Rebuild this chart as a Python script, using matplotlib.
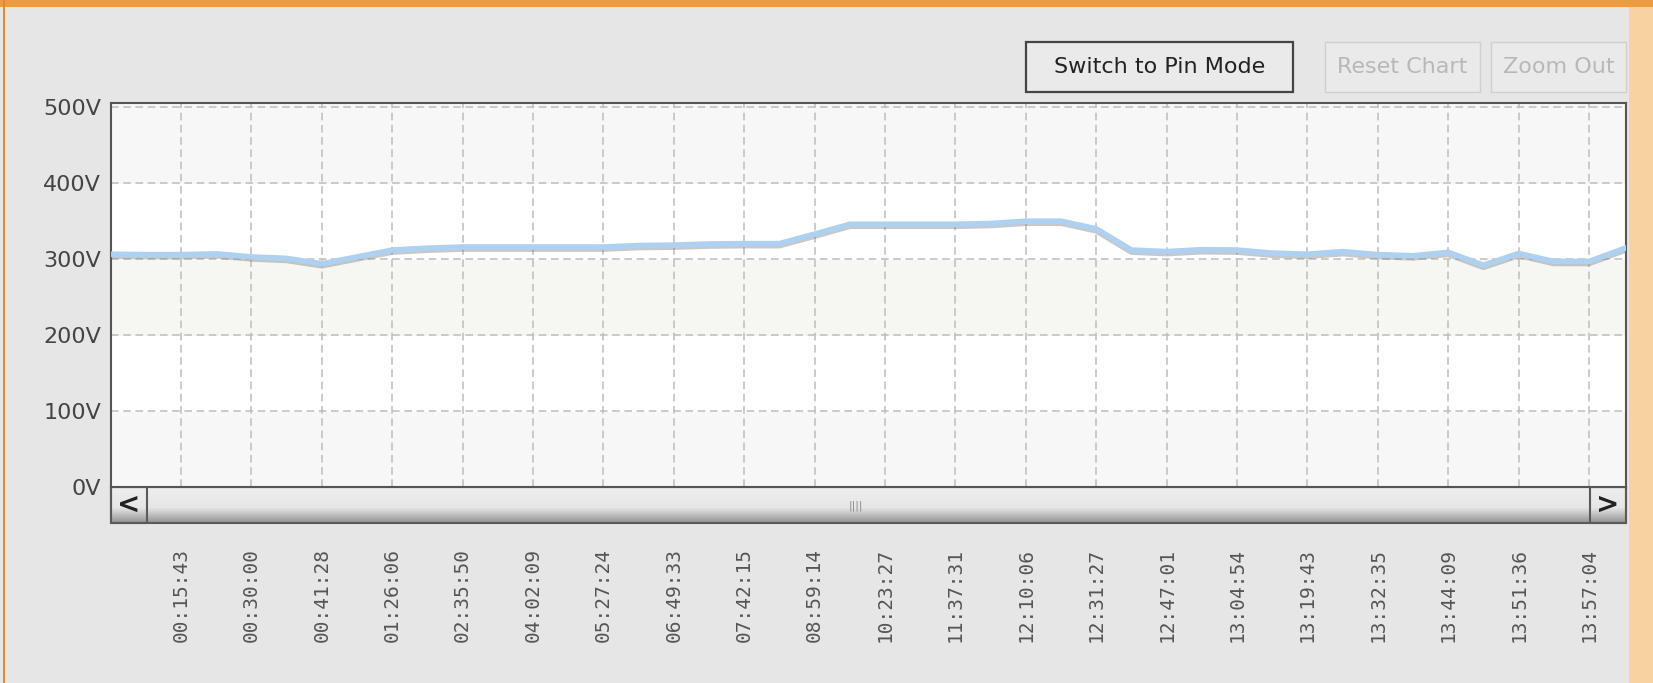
import numpy as np
import matplotlib
matplotlib.use("Agg")
import matplotlib.pyplot as plt
from matplotlib.patches import Rectangle
import matplotlib.patheffects as pe

# voltage samples (V), one every half tick
volts = [306.5, 306, 306, 307, 303, 301, 294, 303, 312, 314.5,
         316, 316, 316, 316, 316, 318, 318.5, 320, 320.5, 320.5,
         333, 346, 346, 346, 346, 347, 350, 350, 340, 312,
         310, 312.5, 312, 308, 306.5, 310, 306, 304.5, 309, 292,
         307.5, 297, 297, 314]

time_labels = ["00:15:43", "00:30:00", "00:41:28", "01:26:06", "02:35:50",
               "04:02:09", "05:27:24", "06:49:33", "07:42:15", "08:59:14",
               "10:23:27", "11:37:31", "12:10:06", "12:31:27", "12:47:01",
               "13:04:54", "13:19:43", "13:32:35", "13:44:09", "13:51:36",
               "13:57:04"]
label_idx = list(range(2, 43, 2))

y_ticks = [0, 100, 200, 300, 400, 500]
y_labels = ["0V", "100V", "200V", "300V", "400V", "500V"]

W, H = 1653, 683
fig = plt.figure(figsize=(W / 100, H / 100), dpi=100)
fig.patch.set_facecolor("#e6e6e6")

# page chrome drawn in pixel coordinates
bg = fig.add_axes([0, 0, 1, 1], zorder=0)
bg.set_xlim(0, W)
bg.set_ylim(H, 0)
bg.axis("off")
bg.add_patch(Rectangle((1629, 0), W - 1629, H, fc="#f8d3a0", ec="none"))
bg.add_patch(Rectangle((0, 0), W, 7, fc="#ee9a3e", ec="none"))
bg.add_patch(Rectangle((3, 0), 2, H, fc="#e08a36", ec="none"))

# buttons
buttons = [("Switch to Pin Mode", 1026, 1293, "#444444", "#222222", 1.6),
           ("Reset Chart", 1325, 1480, "#d0d0d0", "#b8b8b8", 1.0),
           ("Zoom Out", 1491, 1626, "#d0d0d0", "#b8b8b8", 1.0)]
for txt, x0, x1, ec, tc, lw in buttons:
    bg.add_patch(Rectangle((x0, 42), x1 - x0, 50, fc="#eaeaea", ec=ec, lw=lw))
    bg.text((x0 + x1) / 2, 67, txt, ha="center", va="center",
            fontsize=16, color=tc)

# scrollbar under the plot
sx0, sx1, sy0, sy1 = 110.7, 1626, 487, 523
grad = np.concatenate([np.linspace(0.93, 0.90, 20), np.linspace(0.90, 0.58, 16)])
bg.imshow(np.repeat(grad[:, None], 2, axis=1), cmap="gray", vmin=0, vmax=1,
          extent=(sx0, sx1, sy1, sy0), aspect="auto", zorder=1)
bg.add_patch(Rectangle((sx0, sy0), sx1 - sx0, sy1 - sy0, fc="none",
                       ec="#5a5a5a", lw=1.5, zorder=2))
bg.add_patch(Rectangle((sx0, sy0), 36.3, sy1 - sy0, fc="none",
                       ec="#5a5a5a", lw=1.5, zorder=2))
bg.add_patch(Rectangle((1590, sy0), sx1 - 1590, sy1 - sy0, fc="none",
                       ec="#5a5a5a", lw=1.5, zorder=2))
bg.text(129, 505, "<", ha="center", va="center", fontsize=20,
        fontweight="bold", color="#222222", zorder=3)
bg.text(1608, 505, ">", ha="center", va="center", fontsize=20,
        fontweight="bold", color="#222222", zorder=3)
bg.text(856, 506, "||||", ha="center", va="center", fontsize=8,
        color="#888888", zorder=3)

# main plot
ax = fig.add_axes([110.7 / W, (H - 487) / H, (1626 - 110.7) / W, (487 - 102.7) / H],
                  zorder=2)
ax.set_facecolor("white")
x = np.arange(len(volts))
ax.set_xlim(0, len(volts) - 0.95)
ax.set_ylim(0, 506)

band_lows = [0, 100, 200, 300, 400, 500]
band_cols = ["#f7f7f7", "white", "#f6f6f2", "white", "#f7f7f7", "#f7f7f7"]
for lo, c in zip(band_lows, band_cols):
    ax.axhspan(lo, lo + 100, color=c, zorder=0)

for yv in y_ticks[1:]:
    ax.axhline(yv, color="#bdbdbd", lw=1.1, ls=(0, (5, 3)), zorder=1)
for xi in label_idx:
    ax.axvline(xi, color="#bdbdbd", lw=1.1, ls=(0, (5, 3)), zorder=1)

ax.plot(x, volts, color="#aed1f1", lw=4, solid_joinstyle="round", zorder=3,
        path_effects=[pe.SimpleLineShadow(offset=(0, -1.5), shadow_color="#777777",
                                          alpha=0.4), pe.Normal()])

ax.set_yticks(y_ticks)
ax.set_yticklabels(y_labels, fontsize=16, color="#444444")
ax.set_xticks(label_idx)
ax.set_xticklabels(time_labels, rotation=90, fontsize=14, color="#555555",
                   family="DejaVu Sans Mono")
ax.tick_params(axis="y", length=0, pad=7)
ax.tick_params(axis="x", length=0, pad=44)
for s in ax.spines.values():
    s.set_color("#555555")
    s.set_linewidth(1.5)

fig.savefig("out.png", dpi=100, facecolor=fig.get_facecolor())
